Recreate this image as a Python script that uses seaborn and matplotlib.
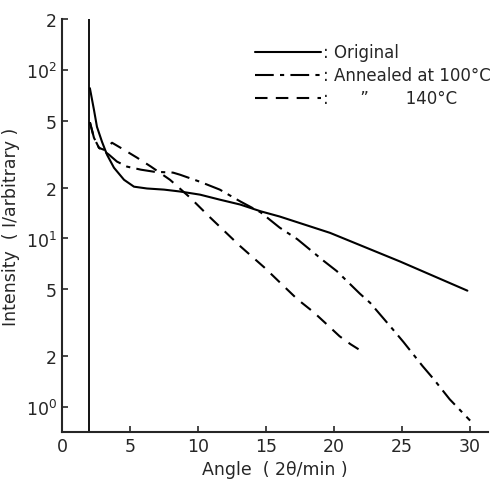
import pandas as pd
import matplotlib
matplotlib.use("Agg")
import matplotlib.pyplot as plt
import seaborn as sns

# Values (angle in 2theta/min, intensity arbitrary, log scale)
orig_x = [2.05, 2.35, 2.57, 2.94, 3.31, 3.82, 4.56, 5.29, 6.25, 7.5, 8.68, 10.15,
          11.6, 13.1, 14.6, 16.0, 19.7, 24.85, 29.8]
orig_y = [78, 58, 46, 37.5, 31.4, 26.3, 22.3, 20.3, 19.8, 19.5, 19.0, 18.2,
          17.0, 15.9, 14.5, 13.5, 10.8, 7.3, 4.9]

ann100_x = [2.05, 2.35, 2.72, 3.09, 3.46, 4.04, 4.78, 5.81, 6.76, 8.16, 8.68, 10.15,
            11.6, 13.1, 14.6, 16.0, 17.3, 19.2, 20.2, 21.9, 22.65, 24.3, 25.1, 26.5,
            27.3, 28.5, 30.0]
ann100_y = [49, 39.6, 34.5, 33.0, 31.4, 28.6, 26.7, 25.6, 24.9, 24.6, 23.9, 21.7,
            19.5, 16.6, 14.3, 11.6, 9.9, 7.4, 6.4, 4.7, 4.15, 2.9, 2.43, 1.75,
            1.47, 1.11, 0.83]

ann140_x = [2.05, 2.35, 2.72, 3.09, 3.68, 4.56, 5.51, 6.54, 7.5, 7.94, 9.41, 10.9,
            13.1, 14.9, 16.0, 17.3, 18.5, 19.7, 20.4, 21.2, 21.8]
ann140_y = [49, 39.6, 34.5, 33.6, 37, 33.6, 30.2, 26.7, 23.6, 22.3, 17.5, 13.3,
            9.0, 6.7, 5.5, 4.36, 3.65, 2.97, 2.63, 2.36, 2.2]

labels = [": Original", ": Annealed at 100°C", ":      \u201D       140°C"]

y_ticks = [1, 2, 5, 10, 20, 50, 100, 200]
y_ticklabels = ["$10^0$", "2", "5", "$10^1$", "2", "5", "$10^2$", "2"]
x_ticks = [0, 5, 10, 15, 20, 25, 30]

sns.set_style("ticks")
plt.rcParams['font.family'] = ['DejaVu Sans']
plt.rcParams['mathtext.default'] = 'regular'

fig = plt.figure(figsize=(4.98, 4.81), dpi=100)
ax = fig.add_axes([0.1245, 0.0998, 0.855, 0.858])

styles = ["-", (0, (9, 3, 2, 3)), (0, (6, 4))]
for xs, ys, lab, ls in zip([orig_x, ann100_x, ann140_x],
                           [orig_y, ann100_y, ann140_y], labels, styles):
    df = pd.DataFrame({"angle": xs, "intensity": ys})
    sns.lineplot(data=df, x="angle", y="intensity", ax=ax, color="black",
                 linewidth=1.5, linestyle=ls, label=lab, sort=False)

# vertical line at the beam stop
ax.axvline(2, color="black", linewidth=1.3)

ax.set_yscale("log")
ax.set_xlim(0, 31.3)
ax.set_ylim(0.71, 200)
ax.set_yticks(y_ticks)
ax.set_yticklabels(y_ticklabels)
ax.yaxis.set_minor_locator(matplotlib.ticker.NullLocator())
ax.set_xticks(x_ticks)
ax.tick_params(direction="in", labelsize=12.5, length=4, width=1.2)

sns.despine(ax=ax)
ax.spines["left"].set_linewidth(1.5)
ax.spines["bottom"].set_linewidth(1.5)

ax.set_xlabel("Angle  ( 2θ/min )", fontsize=12.5)
ax.set_ylabel("Intensity  ( I/arbitrary )", fontsize=12.5)

ax.legend(loc="upper right", bbox_to_anchor=(1.042, 0.978), frameon=False,
          fontsize=12, handlelength=4.0, handletextpad=0.1, labelspacing=0.3)

fig.savefig("out.png", dpi=100)
